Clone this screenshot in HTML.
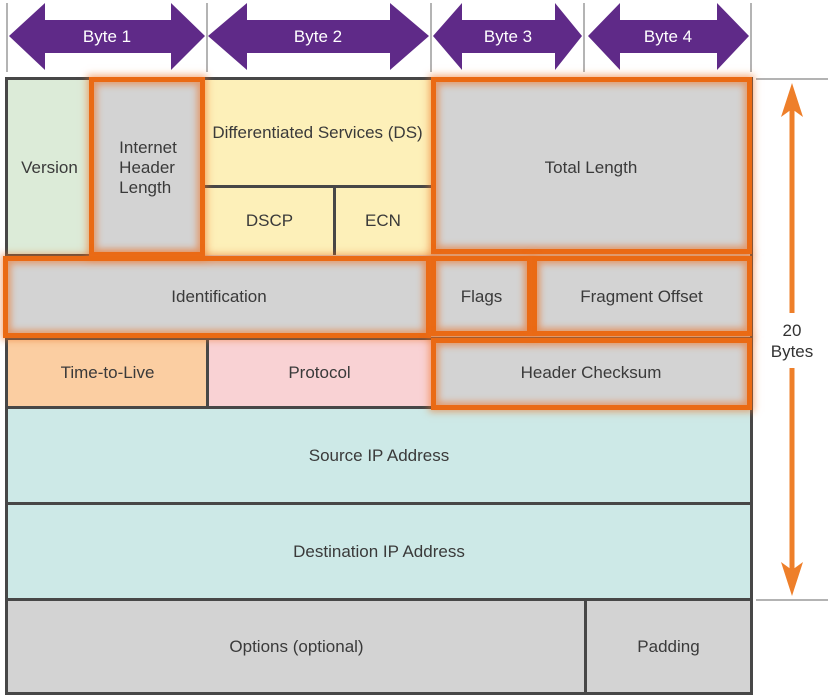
<!DOCTYPE html>
<html><head><meta charset="utf-8"><style>
body{margin:0;width:830px;height:698px;background:#fff;position:relative;overflow:hidden;font-family:"Liberation Sans",sans-serif;}
.c{position:absolute;display:flex;align-items:center;justify-content:center;text-align:center;color:#3a3a3a;font-size:17px;line-height:20px;box-sizing:border-box;}
.l{position:absolute;background:#474747;}
.h{position:absolute;box-sizing:border-box;border:5px solid #ea6a14;box-shadow:0 0 7px 2px rgba(236,110,30,.55),inset 0 0 7px 3px rgba(236,110,30,.55);}
</style></head><body>
<svg style="position:absolute;left:0;top:0" width="830" height="698">
<g stroke="#9a9a9a" stroke-width="1.5">
<line x1="7" y1="3" x2="7" y2="72"/><line x1="207" y1="3" x2="207" y2="72"/><line x1="431" y1="3" x2="431" y2="72"/><line x1="584" y1="3" x2="584" y2="72"/><line x1="751" y1="3" x2="751" y2="72"/>
<line x1="756" y1="79" x2="828" y2="79"/><line x1="756" y1="600" x2="828" y2="600"/>
</g>
<g fill="#5f2a88">
<polygon points="9,36 45,3 45,20 171,20 171,3 205,36 171,70 171,53 45,53 45,70"/>
<polygon points="208,36 247,3 247,20 390,20 390,3 429,36 390,70 390,53 247,53 247,70"/>
<polygon points="433,36 462,3 462,20 555,20 555,3 582,36 555,70 555,53 462,53 462,70"/>
<polygon points="588,36 620,3 620,20 717,20 717,3 749,36 717,70 717,53 620,53 620,70"/>
</g>
<g fill="#ee7f2a" stroke="#ee7f2a">
<line x1="792" y1="100" x2="792" y2="313" stroke-width="5"/>
<line x1="792" y1="368" x2="792" y2="575" stroke-width="5"/>
<polygon points="792,83 781,117 792,109 803,117" stroke="none"/>
<polygon points="792,596 781,562 792,570 803,562" stroke="none"/>
</g>
<text x="792" y="336" font-family="Liberation Sans" font-size="17" fill="#333" text-anchor="middle">20</text>
<text x="792" y="357" font-family="Liberation Sans" font-size="17" fill="#333" text-anchor="middle">Bytes</text>
<g font-family="Liberation Sans" font-size="17" fill="#fff" text-anchor="middle">
<text x="107" y="42">Byte 1</text><text x="318" y="42">Byte 2</text><text x="508" y="42">Byte 3</text><text x="668" y="42">Byte 4</text>
</g>
</svg>
<div class="c" style="left:7px;top:80px;width:85px;height:175px;background:#dcebd8">Version</div>
<div class="c" style="left:92px;top:80px;width:112px;height:175px;background:#d3d3d3;text-align:left">Internet<br>Header<br>Length</div>
<div class="c" style="left:204px;top:80px;width:227px;height:106px;background:#fdf0b9">Differentiated Services (DS)</div>
<div class="c" style="left:204px;top:186px;width:131px;height:69px;background:#fdf0b9">DSCP</div>
<div class="c" style="left:335px;top:186px;width:96px;height:69px;background:#fdf0b9">ECN</div>
<div class="c" style="left:431px;top:80px;width:320px;height:175px;background:#d3d3d3">Total Length</div>
<div class="c" style="left:7px;top:255px;width:424px;height:83px;background:#d3d3d3">Identification</div>
<div class="c" style="left:431px;top:255px;width:101px;height:83px;background:#d3d3d3">Flags</div>
<div class="c" style="left:532px;top:255px;width:219px;height:83px;background:#d3d3d3">Fragment Offset</div>
<div class="c" style="left:7px;top:338px;width:201px;height:70px;background:#fbcea2">Time-to-Live</div>
<div class="c" style="left:208px;top:338px;width:223px;height:70px;background:#f9d2d4">Protocol</div>
<div class="c" style="left:431px;top:338px;width:320px;height:70px;background:#d3d3d3">Header Checksum</div>
<div class="c" style="left:7px;top:408px;width:744px;height:96px;background:#cde9e7">Source IP Address</div>
<div class="c" style="left:7px;top:504px;width:744px;height:96px;background:#cde9e7">Destination IP Address</div>
<div class="c" style="left:7px;top:600px;width:579px;height:94px;background:#d3d3d3">Options (optional)</div>
<div class="c" style="left:586px;top:600px;width:165px;height:94px;background:#d3d3d3">Padding</div>
<div class="l" style="left:5px;top:77px;width:748px;height:3px"></div>
<div class="l" style="left:5px;top:692px;width:748px;height:3px"></div>
<div class="l" style="left:5px;top:77px;width:3px;height:618px"></div>
<div class="l" style="left:750px;top:77px;width:3px;height:618px"></div>
<div class="l" style="left:204px;top:185px;width:227px;height:3px"></div>
<div class="l" style="left:333px;top:185px;width:3px;height:70px"></div>
<div class="l" style="left:5px;top:337px;width:748px;height:3px"></div>
<div class="l" style="left:206px;top:338px;width:3px;height:70px"></div>
<div class="l" style="left:5px;top:406px;width:748px;height:3px"></div>
<div class="l" style="left:5px;top:502px;width:748px;height:3px"></div>
<div class="l" style="left:5px;top:598px;width:748px;height:3px"></div>
<div class="l" style="left:584px;top:600px;width:3px;height:94px"></div>
<div class="l" style="left:5px;top:254px;width:100px;height:2px"></div>
<div class="h" style="left:89px;top:77px;width:116px;height:180px"></div>
<div class="h" style="left:431px;top:77px;width:321px;height:177px"></div>
<div class="h" style="left:3px;top:256px;width:428px;height:82px"></div>
<div class="h" style="left:431px;top:256px;width:101px;height:80px"></div>
<div class="h" style="left:532px;top:256px;width:220px;height:80px"></div>
<div class="h" style="left:431px;top:338px;width:321px;height:72px"></div>
</body></html>
